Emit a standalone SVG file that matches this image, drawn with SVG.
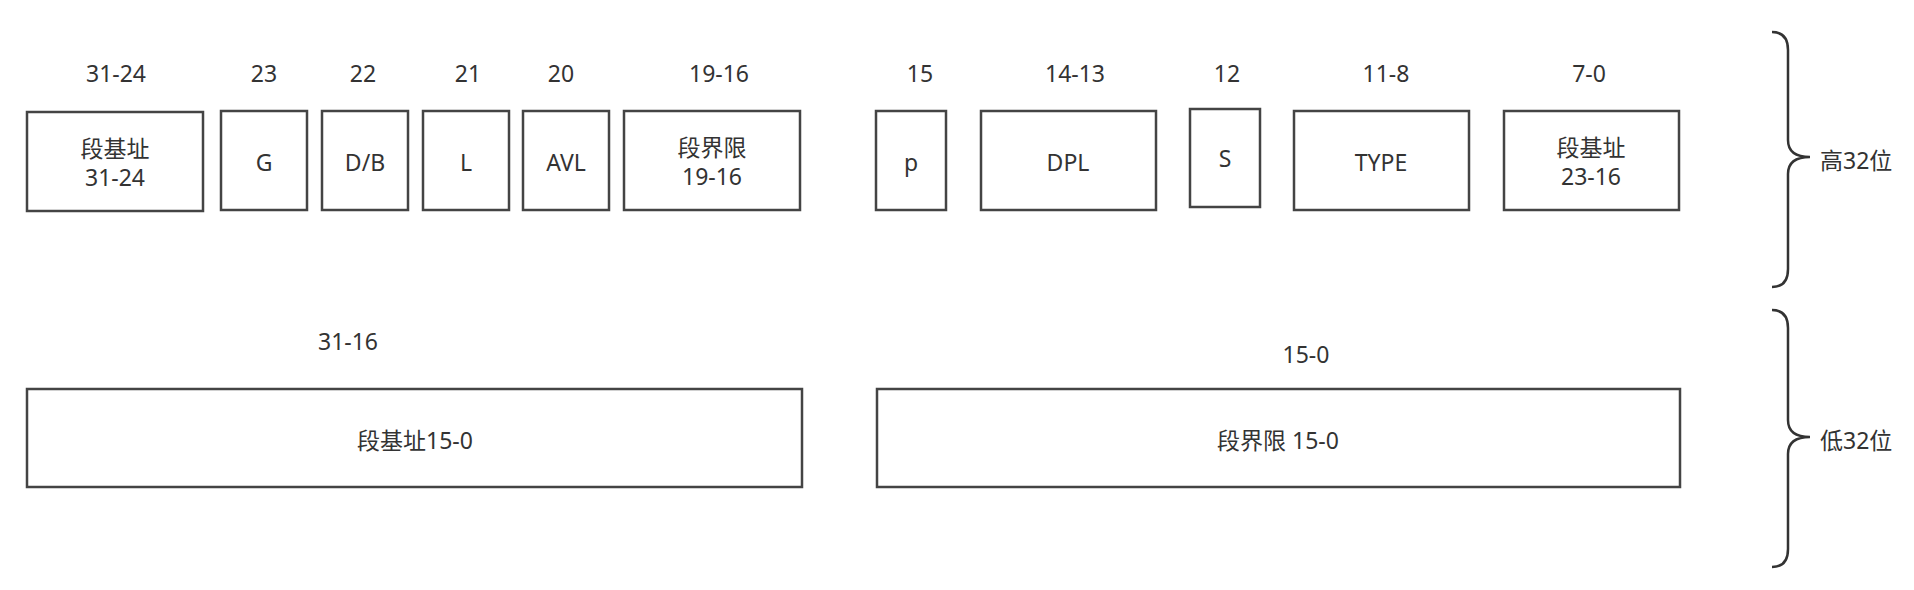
<svg xmlns="http://www.w3.org/2000/svg" width="1914" height="590" viewBox="0 0 1914 590">
<style>
.box{fill:#fff;stroke:#444;stroke-width:2.5}
.t{font-family:"Noto Sans","Noto Sans CJK SC",sans-serif;font-size:23px;fill:#333;text-anchor:middle}
.lbl{font-family:"Noto Sans","Noto Sans CJK SC",sans-serif;font-size:23px;fill:#333;text-anchor:middle}
.side{font-family:"Noto Sans","Noto Sans CJK SC",sans-serif;font-size:23px;fill:#333;text-anchor:start}
.brace{fill:none;stroke:#333;stroke-width:2.5}
</style>
<rect width="1914" height="590" fill="#fff"/>
<g id="labels">
<text class="lbl" x="116" y="82">31-24</text>
<text class="lbl" x="264" y="82">23</text>
<text class="lbl" x="363" y="82">22</text>
<text class="lbl" x="468" y="82">21</text>
<text class="lbl" x="561" y="82">20</text>
<text class="lbl" x="719" y="82">19-16</text>
<text class="lbl" x="920" y="82">15</text>
<text class="lbl" x="1075" y="82">14-13</text>
<text class="lbl" x="1227" y="82">12</text>
<text class="lbl" x="1386" y="82">11-8</text>
<text class="lbl" x="1589" y="82">7-0</text>
<text class="lbl" x="348" y="350">31-16</text>
<text class="lbl" x="1306" y="363">15-0</text>
</g>
<g id="n-base-31-24"><rect class="box" x="27" y="112" width="176" height="99"/><text class="t" x="115" y="157"><tspan x="115" y="157">段基址</tspan><tspan x="115" y="186">31-24</tspan></text></g>
<g id="n-g"><rect class="box" x="221" y="111" width="86" height="99"/><text class="t" x="264" y="171">G</text></g>
<g id="n-db"><rect class="box" x="322" y="111" width="86" height="99"/><text class="t" x="365" y="171">D/B</text></g>
<g id="n-l"><rect class="box" x="423" y="111" width="86" height="99"/><text class="t" x="466" y="171">L</text></g>
<g id="n-avl"><rect class="box" x="523" y="111" width="86" height="99"/><text class="t" x="566" y="171">AVL</text></g>
<g id="n-limit-19-16"><rect class="box" x="624" y="111" width="176" height="99"/><text class="t" x="712" y="156"><tspan x="712" y="156">段界限</tspan><tspan x="712" y="185">19-16</tspan></text></g>
<g id="n-p"><rect class="box" x="876" y="111" width="70" height="99"/><text class="t" x="911" y="171">p</text></g>
<g id="n-dpl"><rect class="box" x="981" y="111" width="175" height="99"/><text class="t" x="1068" y="171">DPL</text></g>
<g id="n-s"><rect class="box" x="1190" y="109" width="70" height="98"/><text class="t" x="1225" y="167">S</text></g>
<g id="n-type"><rect class="box" x="1294" y="111" width="175" height="99"/><text class="t" x="1381" y="171">TYPE</text></g>
<g id="n-base-23-16"><rect class="box" x="1504" y="111" width="175" height="99"/><text class="t" x="1591" y="156"><tspan x="1591" y="156">段基址</tspan><tspan x="1591" y="185">23-16</tspan></text></g>
<g id="n-base-15-0"><rect class="box" x="27" y="389" width="775" height="98"/><text class="t" x="415" y="449">段基址15-0</text></g>
<g id="n-limit-15-0"><rect class="box" x="877" y="389" width="803" height="98"/><text class="t" x="1278" y="449">段界限 15-0</text></g>
<g id="connectors">
<path class="brace" d="M1772,32 Q1788,32 1788,50 L1788,140 Q1788,157 1810,157 Q1788,157 1788,174 L1788,269 Q1788,287 1772,287"/>
<path class="brace" d="M1772,310 Q1788,310 1788,328 L1788,420 Q1788,437 1810,437 Q1788,437 1788,454 L1788,549 Q1788,567 1772,567"/>
</g>
<g id="n-high"><text class="side" x="1820" y="169">高32位</text></g>
<g id="n-low"><text class="side" x="1820" y="449">低32位</text></g>
</svg>
